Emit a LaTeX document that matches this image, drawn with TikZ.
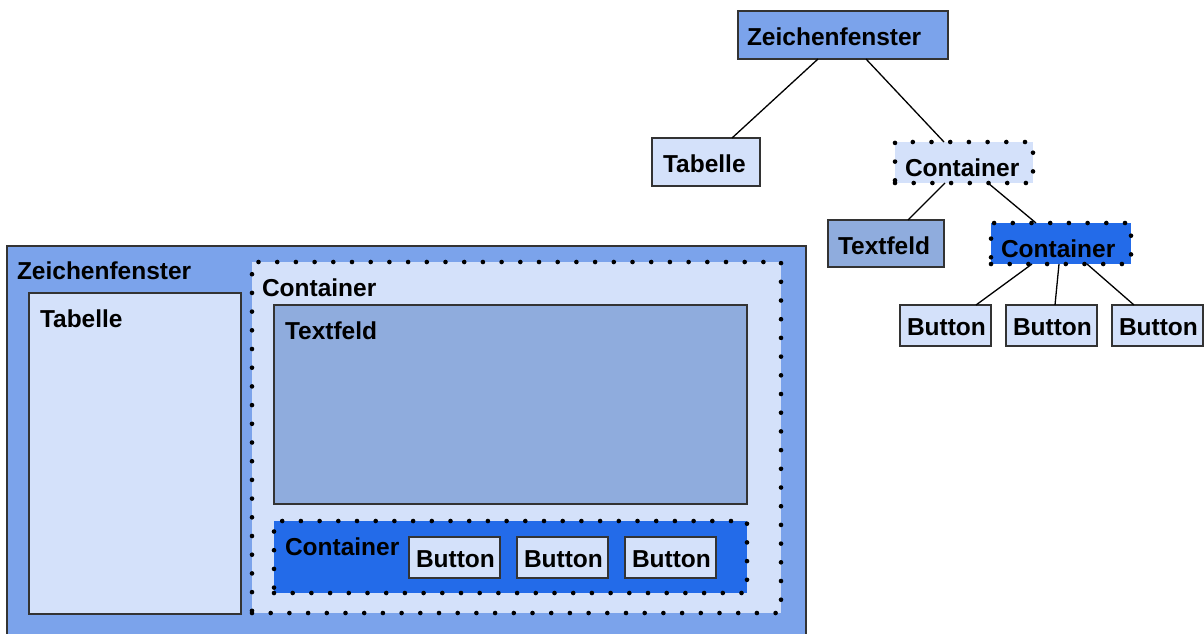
\documentclass[tikz,border=0pt]{standalone}
\usepackage{fontspec}
\setmainfont{Liberation Sans}
\definecolor{cmed}{HTML}{7BA3EB}
\definecolor{clight}{HTML}{D4E1FA}
\definecolor{ctf}{HTML}{8FACDD}
\definecolor{cdark}{HTML}{236BE9}
\definecolor{cbord}{HTML}{333333}
\begin{document}
\begin{tikzpicture}[x=1pt,y=-1pt,
  box/.style={rectangle, inner sep=0pt, outer sep=0pt, anchor=north west, draw=cbord, line width=1.5pt},
  dotbox/.style={rectangle, inner sep=0pt, outer sep=0pt, anchor=north west, draw=black, line width=4.6pt, line cap=round, dash pattern=on 0pt off 18.7pt},
  txt/.style={inner sep=0pt, outer sep=0pt, anchor=base west, font=\bfseries\fontsize{24.5}{28}\selectfont},
  conn/.style={draw=black, line width=1.3pt}]
\useasboundingbox (0,0) rectangle (1204,633);
% ---------- tree ----------
\node[box, fill=cmed, minimum width=210pt, minimum height=48pt] (tzf) at (738,11) {};
\node[txt] (tzft) at (747,45) {Zeichenfenster};
\node[box, fill=clight, minimum width=108pt, minimum height=48pt] (ttab) at (652,138) {};
\node[txt] (ttabt) at (663,172) {Tabelle};
\node[dotbox, fill=clight, minimum width=138pt, minimum height=41pt] (tc1) at (895,142) {};
\node[txt] (tc1t) at (905,176) {Container};
\node[box, fill=ctf, minimum width=116pt, minimum height=47pt] (ttf) at (828,220) {};
\node[txt] (ttft) at (838,254) {Textfeld};
\node[dotbox, fill=cdark, minimum width=140pt, minimum height=41pt] (tc2) at (991,223) {};
\node[txt] (tc2t) at (1001,257) {Container};
\node[box, fill=clight, minimum width=91pt, minimum height=41pt] (tb1) at (900,305) {};
\node[txt] (tb1t) at (907,335) {Button};
\node[box, fill=clight, minimum width=91pt, minimum height=41pt] (tb2) at (1006,305) {};
\node[txt] (tb2t) at (1013,335) {Button};
\node[box, fill=clight, minimum width=91pt, minimum height=41pt] (tb3) at (1112,305) {};
\node[txt] (tb3t) at (1119,335) {Button};
\draw[conn] ([xshift=80pt]tzf.south west) -- ([xshift=80pt]ttab.north west);
\draw[conn] ([xshift=128pt]tzf.south west) -- ([xshift=49pt]tc1.north west);
\draw[conn] ([xshift=50pt]tc1.south west) -- ([xshift=80pt]ttf.north west);
\draw[conn] ([xshift=93pt]tc1.south west) -- ([xshift=45pt]tc2.north west);
\draw[conn] ([xshift=41pt]tc2.south west) -- ([xshift=76pt]tb1.north west);
\draw[conn] ([xshift=68pt]tc2.south west) -- ([xshift=49pt]tb2.north west);
\draw[conn] ([xshift=96pt]tc2.south west) -- ([xshift=22pt]tb3.north west);
% ---------- nested view ----------
\node[box, fill=cmed, minimum width=799pt, minimum height=400pt] (zf) at (7,246) {};
\node[txt] (zft) at (17,279) {Zeichenfenster};
\node[box, fill=clight, minimum width=212pt, minimum height=321pt] (tab) at (29,293) {};
\node[txt] (tabt) at (40,327) {Tabelle};
\node[dotbox, fill=clight, minimum width=529pt, minimum height=351pt] (c1) at (252,262) {};
\node[txt] (c1t) at (262,296) {Container};
\node[box, fill=ctf, minimum width=473pt, minimum height=199pt] (tf) at (274,305) {};
\node[txt] (tft) at (285,339) {Textfeld};
\node[dotbox, fill=cdark, minimum width=473pt, minimum height=72pt] (c2) at (274,521) {};
\node[txt] (c2t) at (285,555) {Container};
\node[box, fill=clight, minimum width=91pt, minimum height=41pt] (b1) at (409,537) {};
\node[txt] (b1t) at (416,567) {Button};
\node[box, fill=clight, minimum width=91pt, minimum height=41pt] (b2) at (517,537) {};
\node[txt] (b2t) at (524,567) {Button};
\node[box, fill=clight, minimum width=91pt, minimum height=41pt] (b3) at (625,537) {};
\node[txt] (b3t) at (632,567) {Button};
\end{tikzpicture}
\end{document}
